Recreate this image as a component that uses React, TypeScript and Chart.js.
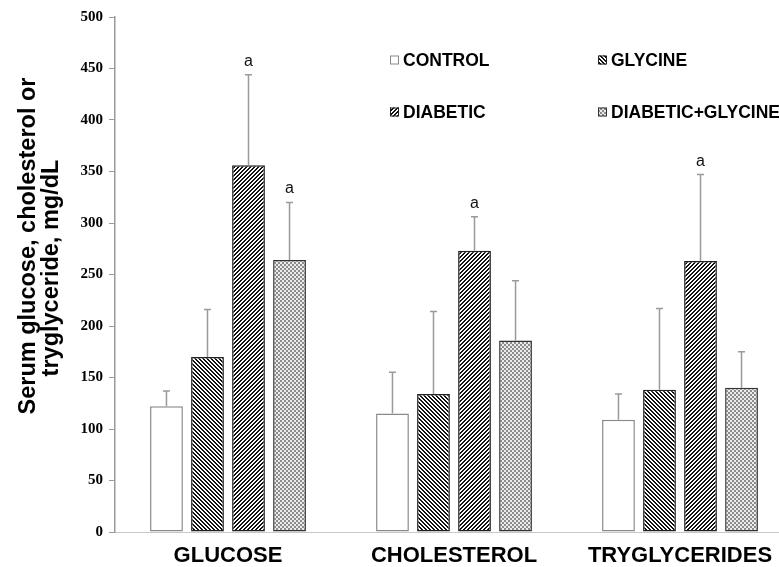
import React, { useEffect, useRef } from "react";
import { Chart, registerables } from "chart.js";

Chart.register(...registerables);

// Categories and group values (mg/dL)
const categories = ["GLUCOSE", "CHOLESTEROL", "TRYGLYCERIDES"];
const seriesNames = ["CONTROL", "GLYCINE", "DIABETIC", "DIABETIC+GLYCINE"];

const control = [122, 115, 109];
const glycine = [170, 134, 138];
const diabetic = [356, 273, 263];
const diabeticGlycine = [264, 186, 140];

// Upper error bar extents (SD)
const controlSD = [15, 40, 25];
const glycineSD = [46, 80, 79];
const diabeticSD = [88, 33, 84];
const diabeticGlycineSD = [56, 58, 35];

// Significance letters above the error bars
const controlSig = ["", "", ""];
const glycineSig = ["", "", ""];
const diabeticSig = ["a", "a", "a"];
const diabeticGlycineSig = ["a", "", ""];

const yTicksMax = 500;
const yTicksStep = 50;

const titleLines = ["Serum glucose, cholesterol or", "tryglyceride, mg/dL"];

const SANS = '"Liberation Sans", Arial, Helvetica, sans-serif';
const SERIF = '"Liberation Serif", "Times New Roman", serif';

const W = 793;
const H = 567;

function makeTile(size: number, paint: (x: number, y: number) => string | null): HTMLCanvasElement {
  const c = document.createElement("canvas");
  c.width = size;
  c.height = size;
  const g = c.getContext("2d")!;
  g.fillStyle = "#fff";
  g.fillRect(0, 0, size, size);
  for (let y = 0; y < size; y++) {
    for (let x = 0; x < size; x++) {
      const col = paint(x, y);
      if (col) {
        g.fillStyle = col;
        g.fillRect(x, y, 1, 1);
      }
    }
  }
  return c;
}

function makePatterns(ctx: CanvasRenderingContext2D) {
  const back = makeTile(4, (x, y) => ((((x - y) % 4) + 4) % 4 < 2 ? "#111" : null));
  const fwd = makeTile(4, (x, y) => ((x + y) % 4 < 2 ? "#111" : null));
  const checker = makeTile(4, (x, y) =>
    ((Math.floor(x / 2) + Math.floor(y / 2)) % 2 === 0 ? "#8c8c8c" : "#ececec")
  );
  return {
    control: "#ffffff",
    glycine: ctx.createPattern(back, "repeat")!,
    diabetic: ctx.createPattern(fwd, "repeat")!,
    dg: ctx.createPattern(checker, "repeat")!,
  };
}

export default function App() {
  const ref = useRef<HTMLCanvasElement | null>(null);

  useEffect(() => {
    const canvas = ref.current!;
    canvas.width = W;
    canvas.height = H;
    const ctx = canvas.getContext("2d")!;
    const pats = makePatterns(ctx);

    const sds = [controlSD, glycineSD, diabeticSD, diabeticGlycineSD];
    const sigs = [controlSig, glycineSig, diabeticSig, diabeticGlycineSig];
    const fills: any[] = [pats.control, pats.glycine, pats.diabetic, pats.dg];
    const borders = ["#8a8a8a", "#222", "#222", "#333"];

    const errorBars = {
      id: "errorBars",
      afterDatasetsDraw(chart: any) {
        const c = chart.ctx;
        const y = chart.scales.y;
        c.save();
        chart.data.datasets.forEach((ds: any, i: number) => {
          const meta = chart.getDatasetMeta(i);
          meta.data.forEach((bar: any, j: number) => {
            const top = y.getPixelForValue(ds.data[j] + sds[i][j]);
            c.strokeStyle = "#9a9a9a";
            c.lineWidth = 1.5;
            c.beginPath();
            c.moveTo(bar.x, bar.y);
            c.lineTo(bar.x, top);
            c.moveTo(bar.x - 3.5, top);
            c.lineTo(bar.x + 3.5, top);
            c.stroke();
            const s = sigs[i][j];
            if (s) {
              c.fillStyle = "#111";
              c.font = `16px ${SANS}`;
              c.textAlign = "center";
              c.textBaseline = "alphabetic";
              c.fillText(s, bar.x, top - 9);
            }
          });
        });
        c.restore();
      },
    };

    const decorations = {
      id: "decorations",
      afterDraw(chart: any) {
        const c = chart.ctx;
        c.save();
        // Y axis title, two rotated lines
        c.fillStyle = "#000";
        c.font = `bold 23.5px ${SANS}`;
        c.textAlign = "center";
        c.textBaseline = "alphabetic";
        const titlePos = [
          [35, 246],
          [58, 268],
        ];
        titleLines.forEach((t, k) => {
          c.save();
          c.translate(titlePos[k][0], titlePos[k][1]);
          c.rotate(-Math.PI / 2);
          c.fillText(t, 0, 0);
          c.restore();
        });

        // Legend (2 x 2 grid)
        const cols = [390, 598];
        const rows = [60, 112];
        c.font = `bold 17.5px ${SANS}`;
        c.textAlign = "left";
        c.textBaseline = "middle";
        seriesNames.forEach((name, i) => {
          const bx = cols[i % 2];
          const by = rows[Math.floor(i / 2)];
          const box = 9;
          c.fillStyle = fills[i];
          c.fillRect(bx, by - box / 2, box, box);
          c.strokeStyle = borders[i];
          c.lineWidth = 1;
          c.strokeRect(bx + 0.5, by - box / 2 + 0.5, box - 1, box - 1);
          c.fillStyle = "#000";
          c.fillText(name, bx + box + 4, by + 1);
        });
        c.restore();
      },
    };

    const values = [control, glycine, diabetic, diabeticGlycine];

    const chart = new Chart(canvas, {
      type: "bar",
      data: {
        labels: categories,
        datasets: seriesNames.map((name, i) => ({
          label: name,
          data: values[i],
          backgroundColor: fills[i],
          borderColor: borders[i],
          borderWidth: 1.5,
          borderSkipped: false,
          barPercentage: 0.8,
          categoryPercentage: 0.726,
        })),
      },
      options: {
        responsive: false,
        devicePixelRatio: 1,
        animation: false,
        layout: { padding: { top: 17, left: 0, right: 0, bottom: 0 } },
        plugins: {
          legend: { display: false },
          tooltip: { enabled: false },
          title: { display: false },
        },
        scales: {
          x: {
            grid: { drawOnChartArea: false, drawTicks: false },
            border: { color: "#c8c8c8", width: 1 },
            ticks: {
              color: "#000",
              font: { family: SANS, size: 22, weight: "bold" },
              padding: 11,
              maxRotation: 0,
              autoSkip: false,
            },
            afterFit: (s: any) => {
              s.height = H - 532;
            },
          },
          y: {
            min: 0,
            max: yTicksMax,
            ticks: {
              stepSize: yTicksStep,
              color: "#000",
              font: { family: SERIF, size: 15, weight: "bold" },
              padding: 6,
            },
            grid: {
              drawOnChartArea: false,
              drawTicks: true,
              tickLength: 6,
              color: "#9a9a9a",
            },
            border: { color: "#9a9a9a", width: 1.5 },
            afterFit: (s: any) => {
              s.width = 115;
            },
          },
        },
      },
      plugins: [errorBars, decorations],
    });

    return () => chart.destroy();
  }, []);

  return (
    <div
      style={{
        position: "fixed",
        left: 0,
        top: 0,
        width: 779,
        height: 567,
        overflow: "hidden",
        background: "#fff",
      }}
    >
      <canvas ref={ref} style={{ display: "block", width: W, height: H }} />
    </div>
  );
}
